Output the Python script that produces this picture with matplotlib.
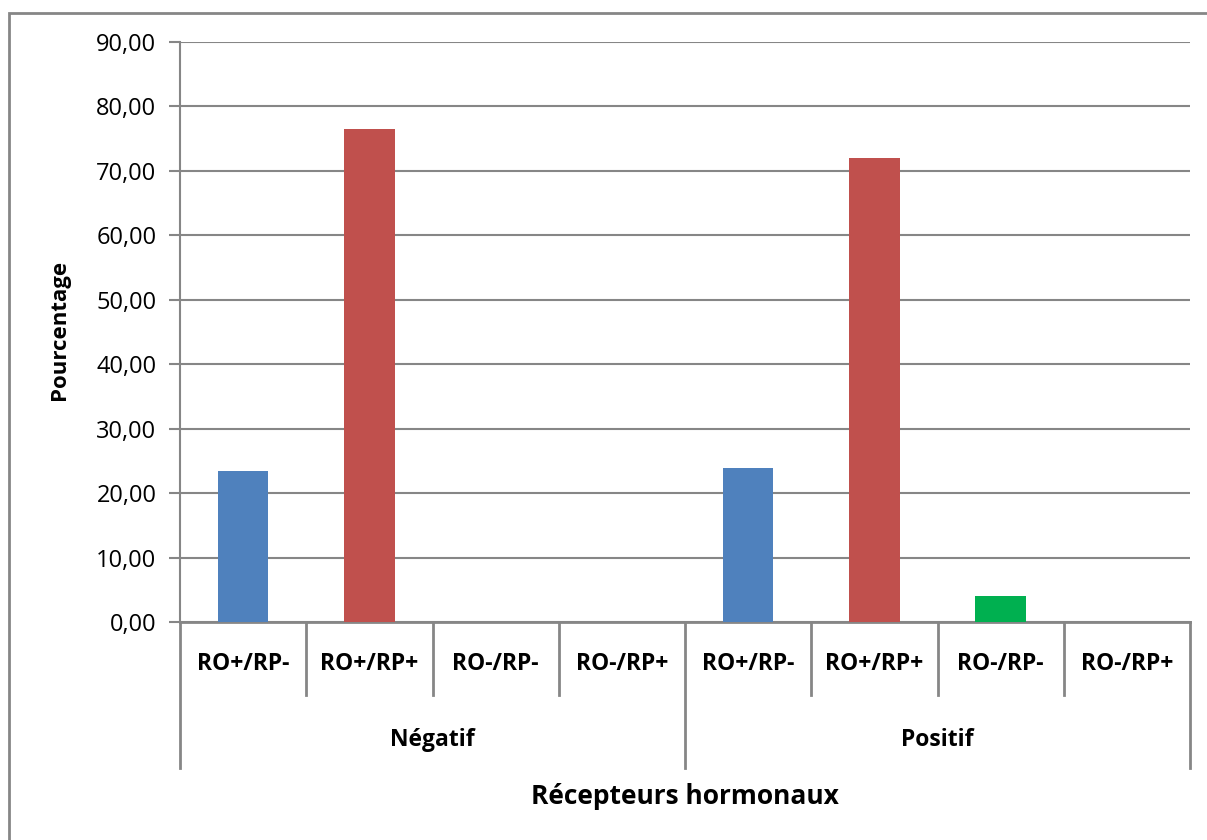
#Bar chart of hormone receptor profiles (RO/RP) by group, Excel-like style.

import matplotlib.pyplot as plt
import matplotlib.transforms as mtransforms
from matplotlib.patches import Rectangle

groups = ['Négatif', 'Positif']
categories = ['RO+/RP-', 'RO+/RP+', 'RO-/RP-', 'RO-/RP+']
values = [23.5, 76.5, 0.0, 0.0, 23.9, 72.0, 4.0, 0.0]
colors = ['#4F81BD', '#C0504D', '#00B050', '#8064A2']
yticks = [0, 10, 20, 30, 40, 50, 60, 70, 80, 90]

plt.rcParams['font.family'] = ['Open Sans', 'DejaVu Sans']
grey = '#868686'

fig = plt.figure(figsize=(12.07, 8.40), dpi=100)
ax = fig.add_axes([180 / 1207, 1 - 622 / 840, 1010 / 1207, 580 / 840])

#outer chart frame (only left and top visible in original)
fig.patches.append(Rectangle((9 / 1207, -0.1), 1.2, 1 - 13 / 840 + 0.1,
                             transform=fig.transFigure, fill=False,
                             edgecolor=grey, linewidth=2))

n_cat = len(categories)
labels = categories * len(groups)
bar_colors = colors * len(groups)
x = list(range(len(values)))

ax.bar(x, values, width=0.40, color=bar_colors, zorder=3)

ax.set_xlim(-0.5, len(values) - 0.5)
ax.set_ylim(0, 90)
ax.set_yticks(yticks)
ax.set_yticklabels([('%.2f' % v).replace('.', ',') for v in yticks], fontsize=17)
ax.tick_params(axis='y', length=8, width=1.5, color=grey, pad=9)
ax.set_xticks([])
ax.grid(axis='y', color=grey, linewidth=1.5, zorder=0)

for s in ['top', 'right']:
    ax.spines[s].set_visible(False)
ax.spines['left'].set_color(grey)
ax.spines['left'].set_linewidth(1.5)
ax.spines['bottom'].set_color(grey)
ax.spines['bottom'].set_linewidth(2)

trans = mtransforms.blended_transform_factory(ax.transData, ax.transAxes)
cat_depth = -(695 - 622) / 580
grp_depth = -(768 - 622) / 580

#category separators and labels
for i in range(len(values) + 1):
    xb = i - 0.5
    if i % n_cat == 0:
        ax.plot([xb, xb], [0, grp_depth], transform=trans, color=grey,
                linewidth=2, clip_on=False)
    else:
        ax.plot([xb, xb], [0, cat_depth], transform=trans, color=grey,
                linewidth=2, clip_on=False)
#for

for i in range(len(values)):
    ax.text(i, -(664 - 622) / 580, labels[i], transform=trans, ha='center',
            va='center', fontsize=16.5, fontweight='bold')
#for

for g in range(len(groups)):
    xc = g * n_cat + (n_cat - 1) / 2
    ax.text(xc, -(740 - 622) / 580, groups[g], transform=trans, ha='center',
            va='center', fontsize=16.5, fontweight='bold')
#for

fig.text(685 / 1207, 1 - 797 / 840, 'Récepteurs hormonaux', ha='center',
         va='center', fontsize=19, fontweight='bold')
fig.text(60 / 1207, 1 - 330 / 840, 'Pourcentage', ha='center', va='center',
         rotation=90, fontsize=16, fontweight='bold')

fig.savefig('out.png', dpi=100)
